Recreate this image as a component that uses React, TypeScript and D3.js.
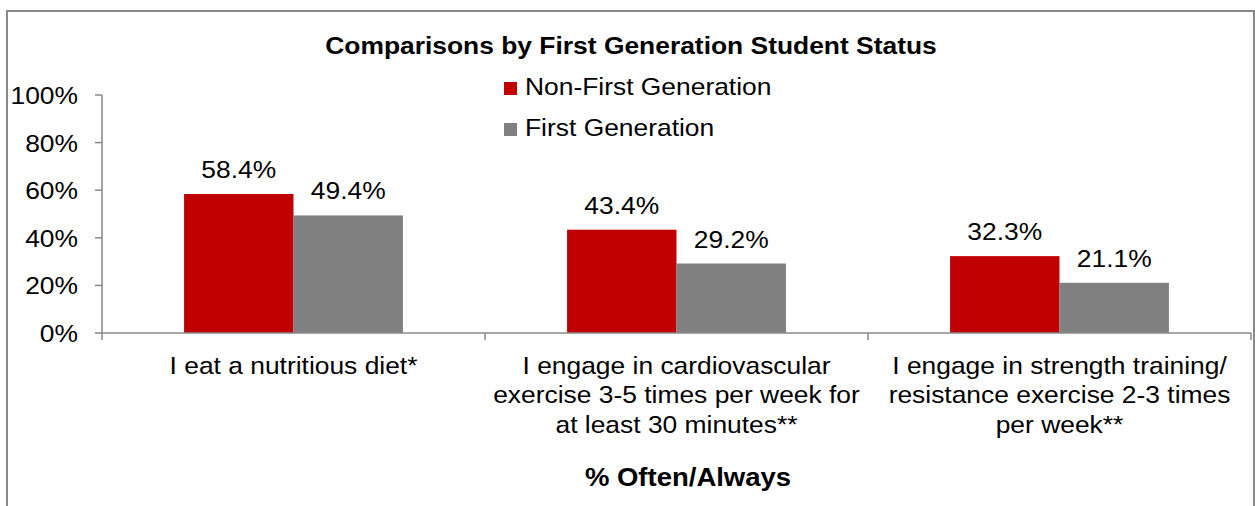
import React from "react";
import * as d3 from "d3";

const categories: string[][] = [
  ["I eat a nutritious diet*"],
  ["I engage in cardiovascular", "exercise 3-5 times per week for", "at least 30 minutes**"],
  ["I engage in strength training/", "resistance exercise 2-3 times", "per week**"],
];
const seriesNames = ["Non-First Generation", "First Generation"];
const nonFirstGen = [58.4, 43.4, 32.3];
const firstGen = [49.4, 29.2, 21.1];
const yTicks = [0, 20, 40, 60, 80, 100];
const colors = ["#C00000", "#808080"];

const W = 1255;
const H = 506;
const FONT = "Arial, 'Liberation Sans', sans-serif";
const SX = 1.1;

function Txt(props: {
  x: number;
  y: number;
  anchor?: "start" | "middle" | "end";
  size?: number;
  bold?: boolean;
  children: React.ReactNode;
}) {
  const { x, y, anchor = "start", size = 24, bold = false, children } = props;
  return (
    <text
      transform={`translate(${x},${y}) scale(${SX},1)`}
      textAnchor={anchor}
      fontSize={size}
      fontWeight={bold ? "bold" : "normal"}
      fill="#000"
    >
      {children}
    </text>
  );
}

export default function App() {
  const x0 = d3.scaleBand<number>().domain([0, 1, 2]).range([102, 1251]).paddingInner(0).paddingOuter(0);
  const bw = x0.bandwidth();
  const barW = bw / 3.5;
  const y = d3.scaleLinear().domain([0, 100]).range([333, 95]);
  const series = [nonFirstGen, firstGen];
  const axisColor = "#888888";

  return (
    <svg width={W} height={H} style={{ position: "absolute", left: 0, top: 0, background: "#fff" }} fontFamily={FONT}>
      <rect x={7} y={11} width={1247} height={H + 20} fill="#fff" stroke="#888" strokeWidth={2} />
      <Txt x={631} y={54} anchor="middle" size={24} bold>
        Comparisons by First Generation Student Status
      </Txt>
      {/* legend */}
      {seriesNames.map((n, i) => (
        <g key={n}>
          <rect x={504} y={82 + i * 41} width={13} height={13} fill={colors[i]} />
          <Txt x={525} y={95 + i * 41}>{n}</Txt>
        </g>
      ))}
      {/* bars */}
      {series.map((vals, si) =>
        vals.map((v, ci) => {
          const bx = (x0(ci) as number) + (bw - 2 * barW) / 2 + si * barW;
          return (
            <g key={`${si}-${ci}`}>
              <rect x={bx} y={y(v)} width={barW} height={y(0) - y(v)} fill={colors[si]} />
              <Txt x={bx + barW / 2} y={y(v) - 16} anchor="middle">
                {v.toFixed(1)}%
              </Txt>
            </g>
          );
        })
      )}
      {/* y axis */}
      <line x1={102} x2={102} y1={y(100)} y2={y(0)} stroke={axisColor} strokeWidth={1.5} />
      {yTicks.map((t) => (
        <g key={t}>
          <line x1={95} x2={102} y1={y(t)} y2={y(t)} stroke={axisColor} strokeWidth={1.5} />
          <Txt x={78} y={y(t) + 9} anchor="end">
            {t}%
          </Txt>
        </g>
      ))}
      {/* x axis */}
      <line x1={102} x2={1251} y1={y(0)} y2={y(0)} stroke={axisColor} strokeWidth={1.5} />
      {[0, 1, 2, 3].map((i) => {
        const xx = 102 + i * bw;
        return <line key={i} x1={xx} x2={xx} y1={y(0)} y2={y(0) + 7} stroke={axisColor} strokeWidth={1.5} />;
      })}
      {categories.map((lines, ci) =>
        lines.map((l, li) => (
          <Txt key={`${ci}-${li}`} x={(x0(ci) as number) + bw / 2} y={374 + li * 29.3} anchor="middle">
            {l}
          </Txt>
        ))
      )}
      <Txt x={688} y={486} anchor="middle" size={25} bold>
        % Often/Always
      </Txt>
    </svg>
  );
}
